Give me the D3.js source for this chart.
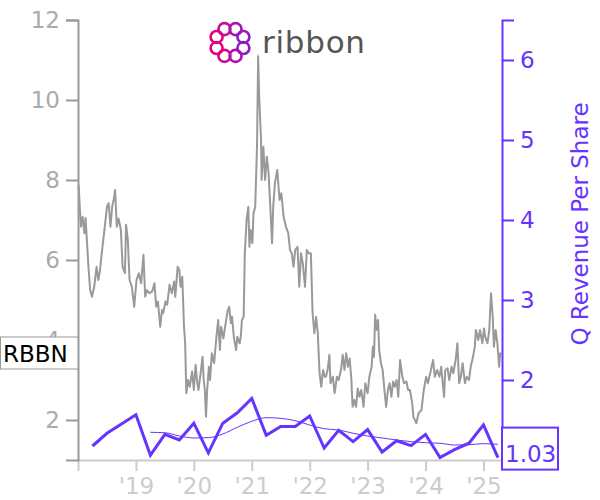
<!DOCTYPE html>
<html><head><meta charset="utf-8">
<script src="https://cdn.jsdelivr.net/npm/d3@7"></script>
<style>body{margin:0;background:#fff} svg{display:block} text{font-family:"DejaVu Sans",sans-serif}</style>
</head><body><svg id="c" width="600" height="500"></svg>
<script>
// ---- data ----
const priceDates = [
2018.01,2018.05,2018.08,2018.11,2018.13,2018.15,2018.18,2018.21,2018.24,2018.28,2018.32,2018.35,2018.38,2018.41,2018.45,2018.50,2018.53,2018.56,2018.59,2018.62,2018.64,2018.67,2018.70,2018.74,2018.77,2018.81,2018.83,2018.86,2018.89,2018.93,2018.97,
2019.01,2019.05,2019.09,2019.13,2019.16,2019.19,2019.23,2019.28,2019.32,2019.35,2019.38,2019.42,2019.45,2019.47,2019.51,2019.54,2019.58,2019.62,2019.66,2019.68,2019.72,2019.75,2019.77,2019.80,2019.83,2019.85,2019.87,2019.90,2019.93,2019.97,
2020.00,2020.03,2020.06,2020.08,2020.12,2020.15,2020.17,2020.19,2020.21,2020.23,2020.26,2020.28,2020.31,2020.35,2020.39,2020.42,2020.45,2020.47,2020.51,2020.54,2020.58,2020.61,2020.64,2020.66,2020.69,2020.73,2020.75,2020.79,2020.81,2020.83,2020.86,2020.88,2020.91,2020.94,2020.96,2020.98,
2021.01,2021.03,2021.06,2021.09,2021.11,2021.13,2021.16,2021.17,2021.20,2021.23,2021.26,2021.29,2021.32,2021.35,2021.37,2021.40,2021.44,2021.48,2021.51,2021.55,2021.59,2021.63,2021.66,2021.69,2021.72,2021.75,2021.79,2021.82,2021.85,2021.88,2021.92,2021.95,2021.98,
2022.02,2022.05,2022.08,2022.11,2022.14,2022.17,2022.20,2022.23,2022.26,2022.28,2022.31,2022.34,2022.36,2022.40,2022.43,2022.47,2022.50,2022.54,2022.57,2022.60,2022.63,2022.66,2022.69,2022.72,2022.74,2022.77,2022.80,2022.83,2022.86,2022.89,2022.93,2022.96,
2023.00,2023.03,2023.07,2023.09,2023.11,2023.13,2023.16,2023.18,2023.20,2023.23,2023.26,2023.29,2023.32,2023.35,2023.38,2023.41,2023.44,2023.47,2023.50,2023.53,2023.56,2023.60,2023.63,2023.67,2023.70,2023.73,2023.77,2023.79,2023.84,2023.88,2023.93,2023.97,
2024.01,2024.04,2024.08,2024.13,2024.16,2024.20,2024.24,2024.27,2024.32,2024.34,2024.38,2024.41,2024.45,2024.48,2024.52,2024.55,2024.58,2024.61,2024.64,2024.68,2024.71,2024.75,2024.78,2024.82,2024.85,2024.87,2024.91,2024.94,2024.98,
2025.01,2025.03,2025.07,2025.10,2025.13,2025.16,2025.18,2025.21,2025.24,2025.27,2025.29,2025.31];
const priceValues = [
7.88,6.83,7.08,6.67,7.05,6.58,5.83,5.25,5.08,5.33,5.83,5.5,5.75,6.17,6.67,7.33,7.42,6.83,7.33,7.54,7.75,6.83,7.04,6.75,5.83,5.67,6.88,6.5,5.5,5.33,4.83,
5.5,5.67,5.42,6.13,5.08,5.25,5.17,5.21,5.42,4.83,4.96,4.33,4.75,4.67,4.96,4.88,5.38,5.17,5.46,5.08,5.83,5.75,5.33,5.58,4.33,3.92,2.67,3.0,2.83,3.21,
2.75,3.38,2.92,2.75,3.21,3.58,3.0,2.75,2.08,2.75,3.33,3.0,3.67,3.42,4.08,4.5,3.75,4.33,4.04,4.33,4.71,4.83,4.42,4.58,4.08,3.75,4.08,3.92,4.08,4.5,4.58,6.17,7.0,7.33,6.33,6.75,
6.42,7.17,7.33,8.83,11.08,10.0,9.0,8.0,8.83,8.0,8.58,8.17,7.33,6.42,7.33,7.92,8.25,7.5,7.67,7.08,6.83,6.67,6.25,6.17,5.83,6.25,6.33,5.33,6.17,5.92,5.33,6.25,6.17,
6.17,4.67,4.17,4.58,4.17,3.17,2.83,3.25,3.08,3.08,3.25,3.63,2.92,3.08,2.67,3.08,3.0,3.25,3.63,3.25,3.67,3.33,3.54,3.0,2.33,2.5,2.33,2.79,2.58,2.75,2.33,2.92,
2.67,3.08,3.33,3.83,3.58,4.63,4.25,4.5,3.75,3.42,3.25,2.75,2.33,2.75,2.92,2.58,2.96,2.83,3.0,2.58,3.5,3.08,2.92,2.96,2.75,2.75,2.42,2.08,1.92,2.17,2.25,2.75,
3.08,2.92,3.17,3.5,3.08,3.25,3.08,3.33,2.58,3.25,3.29,3.0,3.33,3.17,3.5,3.92,2.92,3.08,3.42,2.92,3.08,3.0,3.33,3.58,3.83,4.25,4.0,4.25,3.92,
4.29,4.08,3.92,4.25,5.17,4.58,3.83,4.25,3.92,3.33,3.67,3.65];

const revDates = [2018.25,2018.50,2018.75,2019.00,2019.25,2019.50,2019.75,2020.00,2020.25,2020.50,2020.75,2021.00,2021.25,2021.50,2021.75,2022.00,2022.25,2022.50,2022.75,2023.00,2023.25,2023.50,2023.75,2024.00,2024.25,2024.50,2024.75,2025.00,2025.25];
const revValues = [1.175,1.334,1.45,1.566,1.06,1.32,1.25,1.46,1.09,1.46,1.59,1.77,1.31,1.42,1.42,1.55,1.15,1.37,1.23,1.38,1.10,1.24,1.18,1.32,1.03,1.13,1.21,1.44,1.03];
const revAvgDates = [2019.25,2019.50,2019.75,2020.00,2020.25,2020.50,2020.75,2021.00,2021.25,2021.50,2021.75,2022.00,2022.25,2022.50,2022.75,2023.00,2023.25,2023.50,2023.75,2024.00,2024.25,2024.50,2024.75,2025.00,2025.25];
const revAvgValues = [1.346,1.341,1.30,1.275,1.279,1.325,1.409,1.484,1.529,1.521,1.491,1.4375,1.391,1.375,1.334,1.30,1.275,1.25,1.229,1.216,1.209,1.1875,1.191,1.204,1.196];

const yearTicks = [2018,2019,2020,2021,2022,2023,2024,2025];
const yearLabels = ["","'19","'20","'21","'22","'23","'24","'25"];
const leftTicks = [2,4,6,8,10,12];
const rightTicks = [2,3,4,5,6];
const ticker = "RBBN";
const rightTitle = "Q Revenue Per Share";
const lastRevLabel = "1.03";

// ---- chart ----
const PURPLE = "#6633ff";
const svg = d3.select("#c");
svg.append("rect").attr("width",600).attr("height",500).attr("fill","#fff");

const x = d3.scaleLinear().domain([2018, 2025.32]).range([78, 502]);
const yL = d3.scaleLinear().domain([1, 12]).range([460, 20]);
const yR = d3.scaleLinear().domain([1, 6.5]).range([460, 20]);

// bottom axis
const gx = svg.append("g").attr("transform","translate(0,460)")
  .call(d3.axisBottom(x).tickValues(yearTicks).tickFormat((d,i)=>yearLabels[i]).tickSize(11).tickPadding(7).tickSizeOuter(0));
gx.selectAll("path,line").attr("stroke","#cccccc").attr("stroke-width",2);
gx.selectAll("text").attr("fill","#cccccc").attr("font-size",23).attr("font-family","DejaVu Sans");

// price line
const price = priceDates.map((d,i)=>[d, priceValues[i]]);
svg.append("path").datum(price)
  .attr("fill","none").attr("stroke","#999999").attr("stroke-width",2).attr("stroke-linejoin","round")
  .attr("d", d3.line().x(d=>x(d[0])).y(d=>yL(d[1])));

// revenue avg (thin)
const avg = revAvgDates.map((d,i)=>[d, revAvgValues[i]]);
svg.append("path").datum(avg)
  .attr("fill","none").attr("stroke",PURPLE).attr("stroke-width",1)
  .attr("d", d3.line().curve(d3.curveMonotoneX).x(d=>x(d[0])).y(d=>yR(d[1])));

// revenue (thick)
const rev = revDates.map((d,i)=>[d, revValues[i]]);
svg.append("path").datum(rev)
  .attr("fill","none").attr("stroke",PURPLE).attr("stroke-width",3).attr("stroke-linejoin","miter")
  .attr("d", d3.line().x(d=>x(d[0])).y(d=>yR(d[1])));

// left axis
const gl = svg.append("g").attr("transform","translate(78,0)")
  .call(d3.axisLeft(yL).tickValues(leftTicks).tickSize(12).tickPadding(6));
gl.selectAll("path,line").attr("stroke","#999999").attr("stroke-width",2);
gl.selectAll("text").attr("fill","#aaaaaa").attr("font-size",23).attr("font-family","DejaVu Sans");

// right axis
const gr = svg.append("g").attr("transform","translate(502,0)")
  .call(d3.axisRight(yR).tickValues(rightTicks).tickFormat(d3.format("d")).tickSize(12).tickPadding(6));
gr.selectAll("path,line").attr("stroke",PURPLE).attr("stroke-width",2);
gr.selectAll("text").attr("fill",PURPLE).attr("font-size",23).attr("font-family","DejaVu Sans");

svg.append("text")
  .attr("transform","translate(588,224) rotate(-90)")
  .attr("text-anchor","middle").attr("fill",PURPLE).attr("font-size",23)
  .text(rightTitle);

// ticker box at last price
const lastP = priceValues[priceValues.length-1];
const yl = yL(lastP);
svg.append("rect").attr("x",0.5).attr("y",yl-17).attr("width",77.5).attr("height",32)
  .attr("fill","#fff").attr("stroke","#999999").attr("stroke-width",1);
svg.append("text").attr("x",3).attr("y",yl+8).attr("fill","#000").attr("font-size",23).text(ticker);

// last revenue box
const yr = yR(revValues[revValues.length-1]);
svg.append("rect").attr("x",502).attr("y",yr-30).attr("width",56).attr("height",42)
  .attr("fill","#fff").attr("stroke",PURPLE).attr("stroke-width",2);
svg.append("text").attr("x",505).attr("y",yr+4).attr("fill",PURPLE).attr("font-size",23).text(lastRevLabel);

// logo
const logo = svg.append("g");
const cx = 230, cy = 42.5, R = 14.5;
const col = d3.interpolateRgb("#e8007a", "#8a1cc6");
d3.range(8).forEach(k=>{
  const a = k*Math.PI/4 + Math.PI/8;
  const px = cx + R*Math.cos(a), py = cy + R*Math.sin(a);
  logo.append("circle").attr("cx",px).attr("cy",py).attr("r",6)
    .attr("fill","none").attr("stroke", col((px-(cx-R))/(2*R))).attr("stroke-width",2.6);
});
logo.append("text").attr("x",262).attr("y",52.7).attr("font-family","Lato").attr("font-weight",400)
  .attr("font-size",31).attr("fill","#555").attr("textLength",103).attr("lengthAdjust","spacing").text("ribbon");
logo.append("line").attr("x1",258).attr("x2",258).attr("y1",54).attr("y2",67).attr("stroke","#999").attr("stroke-width",0.8);
</script></body></html>
